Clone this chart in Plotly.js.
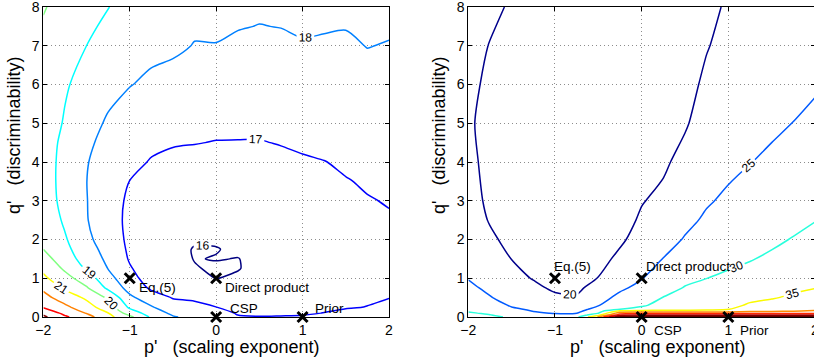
<!DOCTYPE html>
<html>
<head>
<meta charset="utf-8">
<script src="https://cdn.plot.ly/plotly-3.0.1.min.js"></script>
<style>
html, body { margin:0; padding:0; overflow:hidden; background:#fff; }
#chart { width:820px; height:360px; }
</style>
</head>
<body>
<div id="chart"></div>
<script>
// ---------- data ----------
// grid of p' (scaling exponent) and q' (discriminability)
const pGrid = [-2, -1.75, -1.5, -1.25, -1, -0.75, -0.5, -0.25, 0, 0.25, 0.5, 0.75, 1, 1.25, 1.5, 1.75, 2];

// left panel: q' rows and values
const qLeft = [0, 0.1, 0.25, 0.5, 0.75, 1, 1.25, 1.5, 1.75, 2, 2.5, 3, 3.5, 4, 4.5, 5, 6, 7, 7.5, 8];
const zLeft = [
  [24.2, 23.15, 22.4, 21.3, 20.25, 18.85, 18.08, 17.75, 17.4, 17.05, 17.02, 17.03, 17.04, 17.12, 17.2, 17.28, 17.35],
  [23.75, 22.75, 21.95, 21.02, 19.55, 18.55, 17.8, 17.5, 17.25, 16.95, 16.9, 16.92, 16.95, 17.01, 17.1, 17.2, 17.25],
  [22.95, 22.25, 21.4, 20.5, 18.85, 18.1, 17.4, 17.2, 17.01, 16.8, 16.75, 16.8, 16.85, 16.92, 16.97, 17.01, 17.12],
  [22.35, 21.5, 20.85, 19.85, 18.2, 17.45, 16.95, 16.88, 16.7, 16.6, 16.6, 16.7, 16.75, 16.85, 16.92, 16.95, 16.99],
  [21.8, 20.85, 20.1, 18.8, 17.65, 16.85, 16.7, 16.55, 16.35, 16.35, 16.5, 16.62, 16.7, 16.8, 16.88, 16.93, 16.95],
  [21.2, 20.35, 19.5, 18.35, 17.3, 16.6, 16.6, 16.3, 15.98, 16.15, 16.45, 16.6, 16.68, 16.78, 16.86, 16.92, 16.93],
  [20.8, 19.85, 18.9, 17.98, 17.08, 16.5, 16.6, 16.1, 15.8, 15.95, 16.3, 16.6, 16.68, 16.78, 16.86, 16.92, 16.92],
  [20.4, 19.45, 18.6, 17.8, 16.92, 16.45, 16.55, 15.95, 16.05, 15.97, 16.3, 16.6, 16.68, 16.78, 16.86, 16.92, 16.92],
  [20.0, 19.25, 18.4, 17.65, 16.85, 16.45, 16.55, 15.9, 15.95, 16.2, 16.45, 16.62, 16.7, 16.8, 16.87, 16.93, 16.93],
  [19.85, 19.1, 18.2, 17.55, 16.8, 16.45, 16.6, 16.2, 16.15, 16.35, 16.55, 16.65, 16.72, 16.82, 16.88, 16.94, 16.94],
  [19.7, 18.85, 18.05, 17.42, 16.78, 16.5, 16.6, 16.45, 16.4, 16.5, 16.62, 16.7, 16.75, 16.85, 16.92, 16.96, 16.97],
  [19.6, 18.65, 18.03, 17.4, 16.85, 16.6, 16.6, 16.55, 16.55, 16.6, 16.7, 16.75, 16.8, 16.88, 16.95, 16.98, 17.02],
  [19.55, 18.6, 18.01, 17.45, 16.99, 16.75, 16.7, 16.65, 16.7, 16.7, 16.78, 16.82, 16.87, 16.93, 16.98, 17.04, 17.1],
  [19.55, 18.62, 18.05, 17.58, 17.2, 16.95, 16.85, 16.8, 16.85, 16.82, 16.85, 16.9, 16.95, 16.99, 17.06, 17.12, 17.18],
  [19.6, 18.7, 18.15, 17.75, 17.4, 17.15, 17.05, 17.02, 16.98, 16.98, 16.98, 17.02, 17.07, 17.12, 17.18, 17.22, 17.28],
  [19.65, 18.9, 18.3, 17.9, 17.6, 17.4, 17.25, 17.2, 17.15, 17.12, 17.1, 17.15, 17.2, 17.25, 17.3, 17.35, 17.4],
  [19.75, 19.12, 18.6, 18.25, 18.03, 17.85, 17.7, 17.55, 17.5, 17.45, 17.4, 17.45, 17.55, 17.6, 17.62, 17.7, 17.7],
  [19.85, 19.45, 19.0, 18.6, 18.35, 18.2, 18.15, 17.97, 17.99, 17.82, 17.75, 17.8, 17.93, 17.92, 17.88, 18.02, 17.96],
  [19.93, 19.6, 19.2, 18.8, 18.5, 18.3, 18.3, 18.1, 18.05, 18.05, 17.98, 18.02, 18.1, 18.05, 18.03, 18.15, 18.1],
  [20.05, 19.75, 19.4, 19.02, 18.7, 18.45, 18.4, 18.3, 18.25, 18.2, 18.15, 18.15, 18.25, 18.3, 18.3, 18.35, 18.4]
];

// right panel: q' rows and values (listed column by column, one list per p' value)
const qRight = [0, 0.05, 0.1, 0.15, 0.2, 0.3, 0.5, 0.75, 1, 1.5, 2, 2.5, 3, 4, 5, 6, 7, 8];
const zRightCols = [
  [31.2, 30.8, 30.3, 29.8, 29.4, 28.6, 27.3, 26.1, 24.8, 23.2, 22.2, 21.5, 21.0, 20.6, 20.3, 20.6, 21.0, 21.6],
  [30.6, 30.1, 29.6, 29.1, 28.6, 27.8, 25.3, 23.9, 22.8, 21.6, 20.5, 19.8, 19.5, 19.3, 19.3, 19.5, 19.9, 20.6],
  [29.6, 28.9, 28.0, 27.0, 25.9, 24.4, 23.0, 22.0, 21.2, 19.95, 19.2, 18.8, 18.6, 18.5, 18.6, 18.8, 19.2, 19.7],
  [28.0, 27.0, 25.8, 24.9, 24.2, 23.3, 22.0, 20.8, 19.8, 18.6, 18.0, 17.7, 17.5, 17.4, 17.5, 17.7, 18.0, 18.5],
  [27.2, 26.0, 24.7, 23.9, 23.3, 22.3, 20.7, 19.4, 18.7, 17.8, 17.3, 17.0, 16.9, 16.8, 16.9, 17.1, 17.4, 17.8],
  [29.0, 26.8, 24.9, 23.9, 23.0, 22.0, 20.4, 19.2, 18.4, 17.4, 16.9, 16.6, 16.4, 16.3, 16.4, 16.6, 16.9, 17.3],
  [40.5, 33.5, 29.9, 28.2, 26.8, 24.8, 23.2, 21.6, 20.1, 18.8, 18.0, 17.5, 17.1, 16.7, 16.5, 16.5, 16.7, 17.0],
  [60, 48, 42.5, 36.5, 30.0, 28.6, 26.2, 24.2, 22.9, 20.8, 19.4, 18.6, 18.0, 17.3, 17.0, 16.8, 16.8, 17.0],
  [62, 50, 44, 37.3, 31.6, 29.4, 28.0, 26.3, 24.8, 22.8, 21.5, 20.5, 19.8, 18.8, 18.2, 17.8, 17.6, 17.5],
  [62, 50, 44, 37.3, 32.5, 31.6, 30.1, 28.7, 27.5, 25.1, 23.4, 22.2, 20.85, 19.4, 18.6, 18.2, 18.0, 17.9],
  [62, 50, 44, 37.3, 33.0, 32.3, 31.3, 30.2, 29.2, 27.2, 25.3, 24.0, 23.0, 21.2, 19.6, 18.8, 18.4, 18.2],
  [62, 50, 44, 37.3, 33.5, 32.9, 32.0, 31.0, 29.98, 28.4, 27.0, 25.6, 24.6, 23.0, 21.8, 20.7, 19.8, 19.2],
  [62, 50, 44, 37.5, 34.8, 33.8, 32.6, 31.6, 30.6, 29.2, 28.0, 26.9, 25.7, 24.0, 22.9, 21.9, 21.1, 20.4],
  [62, 50, 44, 39, 37.0, 35.6, 33.9, 32.4, 31.3, 29.8, 28.6, 27.6, 26.6, 24.9, 23.7, 22.7, 21.9, 21.2],
  [62, 50, 44, 39.5, 37.8, 36.4, 34.7, 33.3, 32.3, 30.6, 29.3, 28.3, 27.4, 25.7, 24.3, 23.3, 22.5, 21.8],
  [62, 50, 44, 40, 38.5, 37.2, 35.6, 34.2, 33.2, 31.5, 30.2, 29.0, 28.1, 26.5, 25.05, 24.0, 23.2, 22.5],
  [62, 50, 44, 40.5, 39.0, 38.0, 36.3, 34.9, 33.9, 32.3, 30.9, 29.9, 29.0, 27.4, 25.8, 24.6, 23.7, 23.0]
];

// special points
const markP = [-1, 0, 0, 1];
const markQ = [1, 1, 0, 0];
const markNames = ['Eq.(5)', 'Direct product', 'CSP', 'Prior'];

// axis titles
const xTitleText = "p'\u00a0\u00a0\u00a0(scaling exponent)";
const yTitleText = "q'\u00a0\u00a0\u00a0(discriminability)";

// ---------- styling ----------
const FONT = 'Liberation Sans, Arial, Helvetica, sans-serif';
const leftColors = ['rgb(0,0,128)','rgb(0,0,255)','rgb(0,128,255)','rgb(0,255,255)','rgb(128,255,128)',
                    'rgb(255,255,0)','rgb(255,128,0)','rgb(255,0,0)','rgb(128,0,0)'];
const rightColors = ['rgb(0,0,140)','rgb(0,90,255)','rgb(40,255,220)','rgb(250,250,0)','rgb(255,140,0)',
                     'rgb(255,40,0)','rgb(190,0,0)','rgb(130,0,0)','rgb(100,0,0)'];
function scale(cols) { return cols.map((c, i) => [i / (cols.length - 1), c]); }
const zRight = qRight.map((_, r) => zRightCols.map(col => col[r]));

const contourCommon = {
  type: 'contour', showscale: false, hoverinfo: 'skip', autocontour: false,
  line: { width: 1.5, smoothing: 0.8 }
};

const traces = [
  Object.assign({}, contourCommon, {
    x: pGrid, y: qLeft, z: zLeft, xaxis: 'x', yaxis: 'y',
    colorscale: scale(leftColors),
    contours: { start: 16, end: 24, size: 1, coloring: 'lines', showlabels: true,
                labelfont: { family: FONT, size: 12, color: 'black' }, labelformat: '.0f' }
  }),
  Object.assign({}, contourCommon, {
    x: pGrid, y: qRight, z: zRight, xaxis: 'x2', yaxis: 'y2',
    colorscale: scale(rightColors),
    contours: { start: 20, end: 60, size: 5, coloring: 'lines', showlabels: true,
                labelfont: { family: FONT, size: 12, color: 'black' }, labelformat: '.0f' }
  }),
  { type: 'scatter', mode: 'markers', x: markP, y: markQ, xaxis: 'x', yaxis: 'y', hoverinfo: 'skip',
    cliponaxis: false,
    marker: { symbol: 'x-thin', size: 10, color: 'black', line: { width: 3, color: 'black' } } },
  { type: 'scatter', mode: 'markers', x: markP, y: markQ, xaxis: 'x2', yaxis: 'y2', hoverinfo: 'skip',
    cliponaxis: false,
    marker: { symbol: 'x-thin', size: 10, color: 'black', line: { width: 3, color: 'black' } } }
];

const W = 820, H = 360, TOP = 7, BOT = 43;
const plotH = H - TOP - BOT;
function axisBase() {
  return {
    showline: true, linecolor: 'black', linewidth: 1, mirror: 'ticks',
    ticks: 'inside', ticklen: 4, tickcolor: 'black', ticklabeloverflow: 'allow',
    showgrid: true, gridcolor: 'rgba(0,0,0,0.45)', griddash: '1px,3px', gridwidth: 1,
    zeroline: false, dtick: 1, tickfont: { family: FONT, size: 14, color: 'black' }
  };
}
const L0 = 43.3, L1 = 389, R0 = 468.3, R1 = 815;

const layout = {
  width: W, height: H,
  margin: { l: 0, r: 0, t: TOP, b: BOT },
  paper_bgcolor: 'white', plot_bgcolor: 'white', showlegend: false,
  font: { family: FONT, size: 14, color: 'black' },
  xaxis: Object.assign(axisBase(), { domain: [L0 / W, L1 / W], range: [-2, 2], anchor: 'y' }),
  yaxis: Object.assign(axisBase(), { domain: [0, 1], range: [0, 8], anchor: 'x' }),
  xaxis2: Object.assign(axisBase(), { domain: [R0 / W, R1 / W], range: [-2, 2], anchor: 'y2' }),
  yaxis2: Object.assign(axisBase(), { domain: [0, 1], range: [0, 8], anchor: 'x2' }),
  annotations: []
};

// axis titles as paper annotations
const titleFont = { family: FONT, size: 18, color: 'black' };
[[L0, 232.5, 14], [R0, 657.5, 439]].forEach(([x0, xc, yc]) => {
  layout.annotations.push({ xref: 'paper', yref: 'paper', x: xc / W, y: (H - BOT - 347) / plotH,
    text: xTitleText, showarrow: false, xanchor: 'center', yanchor: 'middle', font: titleFont });
  layout.annotations.push({ xref: 'paper', yref: 'paper', x: yc / W, y: (H - BOT - 136) / plotH,
    text: yTitleText, showarrow: false, xanchor: 'center', yanchor: 'middle', textangle: -90, font: titleFont });
});

// label offsets (pixels) per panel for each special point
const leftShift = [[7, -9], [7, -9], [12, 9], [10, 9]];
const rightShift = [[-3, 12], [2, 12], [10, -13], [10, -13]];
markNames.forEach((name, i) => {
  layout.annotations.push({ xref: 'x', yref: 'y', x: markP[i], y: markQ[i], text: name, showarrow: false,
    xanchor: 'left', yanchor: 'middle', xshift: leftShift[i][0], yshift: leftShift[i][1],
    font: { family: FONT, size: 13.5, color: 'black' } });
  layout.annotations.push({ xref: 'x2', yref: 'y2', x: markP[i], y: markQ[i], text: name, showarrow: false,
    xanchor: 'left', yanchor: 'middle', xshift: rightShift[i][0], yshift: rightShift[i][1],
    font: { family: FONT, size: 13.5, color: 'black' } });
});

Plotly.newPlot('chart', traces, layout, { staticPlot: true, displayModeBar: false });
</script>
</body>
</html>
